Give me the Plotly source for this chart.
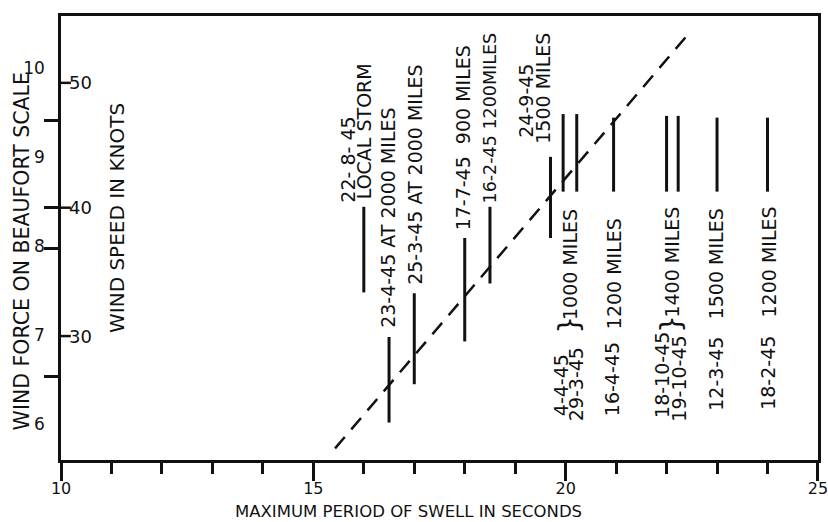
import plotly.graph_objects as go

# ---------------- data (period in s, wind force on Beaufort scale) ----------------
bar_dates = ["22-8-45", "23-4-45", "25-3-45", "17-7-45", "16-2-45", "24-9-45",
             "4-4-45", "29-3-45", "16-4-45", "18-10-45", "19-10-45", "12-3-45", "18-2-45"]
bar_period = [16.0, 16.5, 17.0, 18.0, 18.5, 19.7, 19.95, 20.22, 20.95, 22.0, 22.23, 23.0, 24.0]
bar_force_low = [7.48, 6.02, 6.45, 6.93, 7.58, 8.09, 8.61, 8.61, 8.61, 8.61, 8.61, 8.61, 8.61]
bar_force_high = [8.44, 6.98, 7.47, 8.09, 8.44, 9.00, 9.48, 9.48, 9.44, 9.46, 9.46, 9.44, 9.44]

trend_period = [15.43, 22.42]
trend_force = [5.73, 10.37]

x_major_ticks = [10, 15, 20, 25]
beaufort_ticks = [6, 7, 8, 9, 10]
beaufort_marks = [6.54, 7.97, 8.43, 9.41]
knot_labels = ["30", "40", "50"]
knot_pos = [6.99, 8.43, 9.83]

FONT = "DejaVu Sans"
INK = "#111111"

fig = go.Figure()

# vertical bars
bx, by = [], []
for p, lo, hi in zip(bar_period, bar_force_low, bar_force_high):
    bx += [p, p, None]
    by += [lo, hi, None]
fig.add_trace(go.Scatter(x=bx, y=by, mode="lines",
                         line=dict(color=INK, width=3), hoverinfo="skip",
                         showlegend=False))

# dashed trend line
fig.add_trace(go.Scatter(x=trend_period, y=trend_force, mode="lines",
                         line=dict(color=INK, width=2.5, dash="15px,10px"),
                         hoverinfo="skip", showlegend=False))

# ---------------- labels ----------------
LS = 19
ann = []


def lab(text, x, y, yanchor, size=LS):
    ann.append(dict(text=text, x=x, y=y, xref="x", yref="y", showarrow=False,
                    textangle=-90, xanchor="center", yanchor=yanchor,
                    font=dict(family=FONT, size=size, color=INK)))


# labels above bars (reading upward)
lab("22- 8- 45", 15.68, 8.46, "bottom")
lab("LOCAL STORM", 16.02, 8.50, "bottom")
lab("23-4-45 AT 2000 MILES", 16.48, 7.06, "bottom")
lab("25-3-45 AT 2000 MILES", 17.01, 7.54, "bottom")
lab("17-7-45  900 MILES", 17.97, 8.15, "bottom")
lab("16-2-45 1200MILES", 18.5, 8.46, "bottom", size=17.5)
lab("24-9-45", 19.21, 9.19, "bottom")
lab("1500 MILES", 19.55, 9.13, "bottom")

# labels below bars
lab("4-4-45", 19.91, 6.07, "bottom")
lab("29-3-45", 20.22, 6.01, "bottom")
lab("}", 20.07, 7.12, "middle", size=28)
lab("1000 MILES", 20.1, 8.44, "top")
lab("16-4-45", 20.92, 6.07, "bottom")
lab("1200 MILES", 20.96, 8.33, "top")
lab("18-10-45", 21.91, 6.05, "bottom")
lab("19-10-45", 22.25, 6.01, "bottom")
lab("}", 22.10, 7.12, "middle", size=28)
lab("1400 MILES", 22.09, 8.46, "top")
lab("12-3-45", 22.98, 6.13, "bottom")
lab("1500 MILES", 22.98, 8.44, "top")
lab("18-2-45", 24.01, 6.14, "bottom")
lab("1200 MILES", 24.03, 8.46, "top")

# knots scale labels
for t, v in zip(knot_labels, knot_pos):
    ann.append(dict(text=t, x=0.008, y=v, xref="paper", yref="y", showarrow=False,
                    xanchor="left", yanchor="middle",
                    font=dict(family=FONT, size=18, color=INK)))

# axis titles
ann.append(dict(text="WIND FORCE ON BEAUFORT SCALE", x=-0.051, y=1 - (251 - 16) / 444,
                xref="paper", yref="paper", showarrow=False, textangle=-90,
                xanchor="center", yanchor="middle",
                font=dict(family=FONT, size=20.5, color=INK)))
ann.append(dict(text="WIND SPEED IN KNOTS", x=(117 - 61) / 757, y=1 - (218 - 16) / 444,
                xref="paper", yref="paper", showarrow=False, textangle=-90,
                xanchor="center", yanchor="middle",
                font=dict(family=FONT, size=20, color=INK)))
ann.append(dict(text="MAXIMUM PERIOD OF SWELL IN SECONDS", x=(408 - 61) / 757,
                y=-(511 - 460) / 444, xref="paper", yref="paper", showarrow=False,
                xanchor="center", yanchor="middle",
                font=dict(family=FONT, size=16.5, color=INK)))

# knots ticks (drawn inward from the left axis)
shapes = []
for v in knot_pos:
    shapes.append(dict(type="line", xref="paper", yref="y", x0=0, x1=0.013,
                       y0=v, y1=v, line=dict(color=INK, width=2.5)))

fig.update_layout(
    width=828, height=522,
    margin=dict(l=61, r=10, t=16, b=62, autoexpand=False),
    paper_bgcolor="white", plot_bgcolor="white",
    showlegend=False,
    annotations=ann, shapes=shapes,
    xaxis=dict(range=[9.999, 25.001], tickmode="array", tickvals=x_major_ticks,
               automargin=False, ticklabeloverflow="allow",
               ticks="outside", ticklen=18, tickwidth=2.5, tickcolor=INK,
               ticklabelstandoff=-6,
               showline=True, linewidth=2.5, linecolor=INK, mirror=True,
               showgrid=False, zeroline=False,
               tickfont=dict(family=FONT, size=16, color=INK),
               minor=dict(dtick=1, tick0=10, ticks="outside", ticklen=11,
                          tickwidth=2.5, tickcolor=INK, showgrid=False)),
    yaxis=dict(range=[5.60, 10.58], tickmode="array", tickvals=beaufort_ticks,
               ticktext=[str(v) for v in beaufort_ticks],
               automargin=False,
               ticks="", ticklabelstandoff=10,
               showline=True, linewidth=2.5, linecolor=INK, mirror=True,
               showgrid=False, zeroline=False,
               tickfont=dict(family=FONT, size=17, color=INK),
               minor=dict(tickmode="array", tickvals=beaufort_marks, ticks="outside",
                          ticklen=14, tickwidth=2.5, tickcolor=INK, showgrid=False)),
)

fig.write_html("out.html")
